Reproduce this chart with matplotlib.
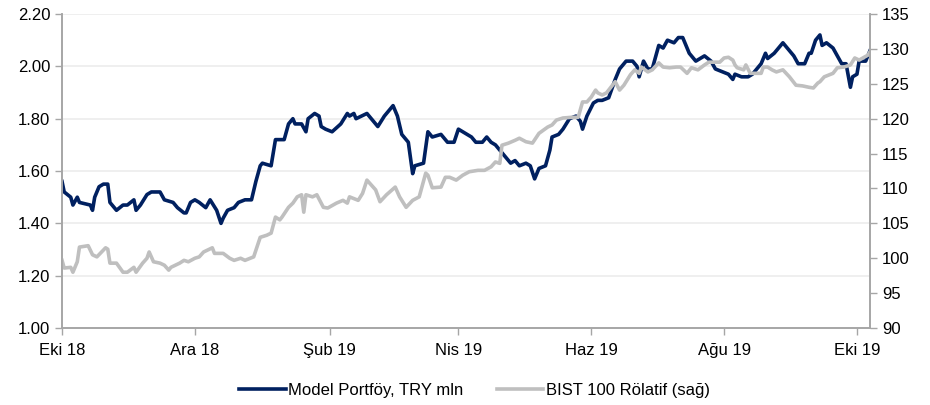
import pandas as pd
import matplotlib
matplotlib.use("Agg")
import matplotlib.pyplot as plt
from matplotlib.ticker import FormatStrFormatter, MultipleLocator

# Model Portföy (sol eksen)
portfoy_tarih = [
    "2018-10-01", "2018-10-02", "2018-10-05", "2018-10-06", "2018-10-08", "2018-10-09",
    "2018-10-14", "2018-10-15", "2018-10-16", "2018-10-18", "2018-10-20", "2018-10-22",
    "2018-10-23", "2018-10-26", "2018-10-29", "2018-10-31", "2018-11-03", "2018-11-04",
    "2018-11-06", "2018-11-09", "2018-11-11", "2018-11-13", "2018-11-15", "2018-11-17",
    "2018-11-21", "2018-11-23", "2018-11-26", "2018-11-27", "2018-11-29", "2018-12-01",
    "2018-12-03", "2018-12-06", "2018-12-08", "2018-12-11", "2018-12-13", "2018-12-14",
    "2018-12-16", "2018-12-19", "2018-12-21", "2018-12-24", "2018-12-27", "2018-12-29",
    "2018-12-31", "2019-01-01", "2019-01-05", "2019-01-07", "2019-01-11", "2019-01-13",
    "2019-01-15", "2019-01-16", "2019-01-19", "2019-01-21", "2019-01-22", "2019-01-25",
    "2019-01-27", "2019-01-28", "2019-01-30", "2019-02-02", "2019-02-06", "2019-02-09",
    "2019-02-10", "2019-02-12", "2019-02-13", "2019-02-18", "2019-02-21", "2019-02-23",
    "2019-02-26", "2019-03-02", "2019-03-04", "2019-03-06", "2019-03-09", "2019-03-11",
    "2019-03-12", "2019-03-16", "2019-03-18", "2019-03-20", "2019-03-24", "2019-03-25",
    "2019-03-27", "2019-03-30", "2019-04-01", "2019-04-03", "2019-04-07", "2019-04-09",
    "2019-04-12", "2019-04-14", "2019-04-16", "2019-04-18", "2019-04-20", "2019-04-22",
    "2019-04-25", "2019-04-27", "2019-04-29", "2019-05-02", "2019-05-04", "2019-05-06",
    "2019-05-08", "2019-05-11", "2019-05-13", "2019-05-14", "2019-05-17", "2019-05-19",
    "2019-05-22", "2019-05-25", "2019-05-27", "2019-05-28", "2019-05-30", "2019-06-02",
    "2019-06-04", "2019-06-06", "2019-06-09", "2019-06-12", "2019-06-14", "2019-06-17",
    "2019-06-20", "2019-06-22", "2019-06-23", "2019-06-25", "2019-06-27", "2019-06-29",
    "2019-07-02", "2019-07-04", "2019-07-06", "2019-07-09", "2019-07-11", "2019-07-13",
    "2019-07-15", "2019-07-16", "2019-07-19", "2019-07-21", "2019-07-23", "2019-07-26",
    "2019-07-28", "2019-07-31", "2019-08-03", "2019-08-05", "2019-08-06", "2019-08-09",
    "2019-08-12", "2019-08-14", "2019-08-18", "2019-08-20", "2019-08-21", "2019-08-24",
    "2019-08-28", "2019-08-30", "2019-09-02", "2019-09-04", "2019-09-07", "2019-09-09",
    "2019-09-10", "2019-09-12", "2019-09-14", "2019-09-15", "2019-09-17", "2019-09-20",
    "2019-09-22", "2019-09-24", "2019-09-26", "2019-09-28", "2019-09-29", "2019-10-01",
    "2019-10-02", "2019-10-05", "2019-10-07",
]
portfoy = [
    1.56, 1.52, 1.50, 1.47, 1.50, 1.48,
    1.47, 1.45, 1.50, 1.54, 1.55, 1.55,
    1.48, 1.45, 1.47, 1.47, 1.49, 1.45,
    1.47, 1.51, 1.52, 1.52, 1.52, 1.49,
    1.48, 1.46, 1.44, 1.44, 1.48, 1.49,
    1.48, 1.46, 1.49, 1.45, 1.40, 1.42,
    1.45, 1.46, 1.48, 1.49, 1.49, 1.56,
    1.62, 1.63, 1.62, 1.72, 1.72, 1.78,
    1.80, 1.78, 1.78, 1.75, 1.80, 1.82,
    1.81, 1.77, 1.76, 1.75, 1.78, 1.82,
    1.81, 1.82, 1.80, 1.82, 1.79, 1.77,
    1.81, 1.85, 1.81, 1.74, 1.71, 1.59,
    1.62, 1.63, 1.75, 1.73, 1.74, 1.73,
    1.71, 1.71, 1.76, 1.75, 1.73, 1.71,
    1.71, 1.73, 1.71, 1.70, 1.68, 1.66,
    1.63, 1.64, 1.62, 1.63, 1.62, 1.57,
    1.61, 1.62, 1.68, 1.73, 1.74, 1.76,
    1.80, 1.81, 1.79, 1.76, 1.81, 1.86,
    1.87, 1.87, 1.88, 1.95, 1.99, 2.02,
    2.02, 2.00, 1.96, 2.02, 1.99, 1.99,
    2.08, 2.07, 2.10, 2.09, 2.11, 2.11,
    2.07, 2.05, 2.02, 2.03, 2.04, 2.02,
    1.99, 1.98, 1.97, 1.95, 1.97, 1.96,
    1.96, 1.97, 2.01, 2.05, 2.03, 2.05,
    2.09, 2.07, 2.04, 2.01, 2.01, 2.05,
    2.05, 2.10, 2.12, 2.08, 2.09, 2.07,
    2.04, 2.01, 2.01, 1.92, 1.96, 1.97,
    2.02, 2.02, 2.06,
]

# BIST 100 Rölatif (sağ eksen)
bist_tarih = [
    "2018-10-01", "2018-10-02", "2018-10-05", "2018-10-06", "2018-10-08", "2018-10-09",
    "2018-10-13", "2018-10-15", "2018-10-17", "2018-10-21", "2018-10-22", "2018-10-23",
    "2018-10-26", "2018-10-29", "2018-10-31", "2018-11-03", "2018-11-04", "2018-11-07",
    "2018-11-09", "2018-11-10", "2018-11-12", "2018-11-15", "2018-11-17", "2018-11-19",
    "2018-11-20", "2018-11-24", "2018-11-26", "2018-11-28", "2018-12-01", "2018-12-03",
    "2018-12-05", "2018-12-09", "2018-12-10", "2018-12-14", "2018-12-17", "2018-12-19",
    "2018-12-22", "2018-12-24", "2018-12-28", "2018-12-31", "2019-01-03", "2019-01-05",
    "2019-01-07", "2019-01-09", "2019-01-10", "2019-01-13", "2019-01-15", "2019-01-17",
    "2019-01-19", "2019-01-20", "2019-01-21", "2019-01-24", "2019-01-26", "2019-01-29",
    "2019-01-31", "2019-02-04", "2019-02-07", "2019-02-09", "2019-02-10", "2019-02-14",
    "2019-02-16", "2019-02-18", "2019-02-22", "2019-02-24", "2019-02-27", "2019-03-03",
    "2019-03-05", "2019-03-08", "2019-03-11", "2019-03-14", "2019-03-17", "2019-03-18",
    "2019-03-20", "2019-03-24", "2019-03-26", "2019-03-28", "2019-03-31", "2019-04-03",
    "2019-04-06", "2019-04-10", "2019-04-13", "2019-04-16", "2019-04-18", "2019-04-20",
    "2019-04-21", "2019-04-24", "2019-04-27", "2019-04-29", "2019-05-02", "2019-05-05",
    "2019-05-08", "2019-05-12", "2019-05-14", "2019-05-16", "2019-05-19", "2019-05-23",
    "2019-05-26", "2019-05-28", "2019-05-30", "2019-06-01", "2019-06-03", "2019-06-04",
    "2019-06-06", "2019-06-08", "2019-06-10", "2019-06-12", "2019-06-14", "2019-06-16",
    "2019-06-17", "2019-06-19", "2019-06-21", "2019-06-23", "2019-06-24", "2019-06-27",
    "2019-06-29", "2019-07-02", "2019-07-04", "2019-07-07", "2019-07-10", "2019-07-12",
    "2019-07-15", "2019-07-17", "2019-07-20", "2019-07-23", "2019-07-25", "2019-07-27",
    "2019-07-30", "2019-08-01", "2019-08-03", "2019-08-05", "2019-08-06", "2019-08-07",
    "2019-08-10", "2019-08-11", "2019-08-13", "2019-08-15", "2019-08-18", "2019-08-19",
    "2019-08-21", "2019-08-23", "2019-08-25", "2019-08-28", "2019-08-31", "2019-09-03",
    "2019-09-06", "2019-09-09", "2019-09-11", "2019-09-13", "2019-09-14", "2019-09-16",
    "2019-09-20", "2019-09-22", "2019-09-25", "2019-09-28", "2019-09-30", "2019-10-02",
    "2019-10-06", "2019-10-07",
]
bist = [
    99.7, 98.6, 98.7, 98.0, 99.5, 101.6,
    101.8, 100.5, 100.2, 101.5, 101.3, 99.3,
    99.3, 98.0, 98.0, 98.7, 98.0, 99.3,
    100.0, 100.9, 99.5, 99.3, 99.0, 98.3,
    98.7, 99.3, 99.7, 99.5, 100.0, 100.2,
    100.9, 101.5, 100.7, 100.7, 100.0, 99.7,
    100.0, 99.7, 100.2, 103.0, 103.3, 103.6,
    105.9, 105.5, 105.9, 107.3, 107.9, 108.8,
    109.1, 106.6, 109.1, 108.8, 109.1, 107.3,
    107.2, 107.9, 108.3, 107.9, 108.8, 108.3,
    109.3, 111.2, 109.8, 108.1, 109.1, 110.2,
    108.8, 107.3, 108.3, 108.8, 112.2, 111.9,
    110.1, 110.2, 111.6, 111.6, 111.2, 111.9,
    112.4, 112.6, 112.6, 113.1, 113.8, 113.6,
    116.2, 116.5, 116.9, 117.2, 116.7, 116.5,
    117.9, 118.8, 119.1, 119.8, 120.1, 120.2,
    120.2, 122.4, 122.4, 123.1, 124.1, 123.7,
    123.4, 123.7, 124.5, 125.3, 124.1, 124.8,
    125.3, 126.3, 127.0, 126.5, 127.4, 126.7,
    127.0, 128.0, 127.4, 127.3, 127.4, 127.4,
    126.5, 127.3, 127.0, 127.7, 128.1, 128.1,
    128.1, 128.7, 128.8, 128.4, 127.7, 127.3,
    127.0, 127.7, 126.5, 126.5, 126.5, 127.4,
    127.4, 127.0, 126.7, 127.0, 126.0, 124.8,
    124.7, 124.5, 124.4, 125.1, 125.3, 126.0,
    126.5, 127.3, 127.4, 127.7, 128.7, 128.4,
    129.1, 129.6,
]

ay_etiketleri = ["Eki 18", "Ara 18", "Şub 19", "Nis 19", "Haz 19", "Ağu 19", "Eki 19"]
ay_tarihleri = ["2018-10-01", "2018-12-01", "2019-02-01", "2019-04-01",
                "2019-06-01", "2019-08-01", "2019-10-01"]

LACIVERT = '#002060'
GRI = '#bfbfbf'
EKSEN = '#a6a6a6'

plt.rcParams['font.family'] = ['Liberation Sans', 'DejaVu Sans']
plt.rcParams['font.size'] = 12

fig = plt.figure(figsize=(9.3, 4.05), dpi=100)
ax = fig.add_axes([0.0667, 0.19, 0.8688, 0.7754])
ax2 = ax.twinx()

ax.plot(pd.to_datetime(portfoy_tarih), portfoy, color=LACIVERT, linewidth=2.6,
        solid_joinstyle='round', label='Model Portföy, TRY mln')
ax2.plot(pd.to_datetime(bist_tarih), bist, color=GRI, linewidth=2.6,
         solid_joinstyle='round', label='BIST 100 Rölatif (sağ)')

ax.set_ylim(1.0, 2.2)
ax.yaxis.set_major_locator(MultipleLocator(0.2))
ax.yaxis.set_major_formatter(FormatStrFormatter('%.2f'))
ax2.set_ylim(90, 135)
ax2.yaxis.set_major_locator(MultipleLocator(5))

ax.set_xlim(pd.Timestamp("2018-10-01"), pd.Timestamp("2019-10-07"))
ax.set_xticks(pd.to_datetime(ay_tarihleri))
ax.set_xticklabels(ay_etiketleri)

ax.grid(axis='y', color='#ececec', linewidth=1.2)
ax.set_axisbelow(True)

for a in (ax, ax2):
    a.spines['top'].set_visible(False)
    for s in ('left', 'right', 'bottom'):
        a.spines[s].set_color(EKSEN)
        a.spines[s].set_linewidth(1.2)
    a.tick_params(colors=EKSEN, labelcolor='black', length=5, width=1.0, labelsize=12)
ax.tick_params(axis='x', pad=6)

h1, l1 = ax.get_legend_handles_labels()
h2, l2 = ax2.get_legend_handles_labels()
fig.legend(h1 + h2, l1 + l2, loc='center', bbox_to_anchor=(0.51, 0.035), ncol=2,
           frameon=False, fontsize=12, handlelength=2.8, handletextpad=0.15,
           columnspacing=2.0)

plt.savefig('out.png', dpi=100)
